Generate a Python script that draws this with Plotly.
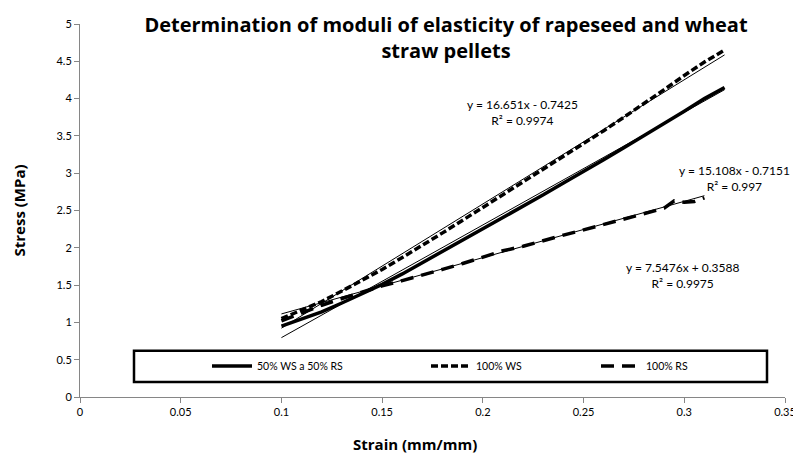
import plotly.graph_objects as go

# ---- data ----
strain = [0.10, 0.11, 0.12, 0.13, 0.14, 0.15, 0.16, 0.17, 0.18, 0.19, 0.20,
          0.21, 0.22, 0.23, 0.24, 0.25, 0.26, 0.27, 0.28, 0.29, 0.30, 0.31, 0.32]
stress_ws_rs = [0.95, 1.04, 1.14, 1.26, 1.38, 1.51, 1.65, 1.80, 1.95, 2.10, 2.25,
                2.40, 2.56, 2.71, 2.87, 3.02, 3.18, 3.34, 3.50, 3.66, 3.83, 4.00, 4.15]
stress_ws = [1.05, 1.16, 1.28, 1.42, 1.56, 1.71, 1.87, 2.03, 2.20, 2.37, 2.54,
             2.71, 2.88, 3.05, 3.22, 3.39, 3.57, 3.75, 3.93, 4.12, 4.31, 4.49, 4.65]
strain_rs = [0.10, 0.11, 0.12, 0.13, 0.14, 0.15, 0.16, 0.17, 0.18, 0.19, 0.20,
             0.21, 0.22, 0.23, 0.24, 0.25, 0.26, 0.27, 0.28, 0.29, 0.295, 0.30,
             0.305, 0.31]
stress_rs = [1.02, 1.13, 1.23, 1.32, 1.41, 1.49, 1.56, 1.63, 1.71, 1.79, 1.87,
             1.96, 2.02, 2.10, 2.17, 2.24, 2.31, 2.38, 2.45, 2.53, 2.63, 2.61,
             2.62, 2.67]

# linear trendlines (slope, intercept) as printed on the chart
trend_ws = (16.651, -0.7425)
trend_mix = (15.108, -0.7151)
trend_rs = (7.5476, 0.3588)

names = ["50% WS a 50% RS", "100% WS", "100% RS"]
eq_texts = ["y = 16.651x - 0.7425<br>R² = 0.9974",
            "y = 15.108x - 0.7151<br>R² = 0.997",
            "y = 7.5476x + 0.3588<br>R² = 0.9975"]
eq_pos = [(0.2195, 3.82), (0.325, 2.93), (0.299, 1.63)]

x_ticks = [0, 0.05, 0.1, 0.15, 0.2, 0.25, 0.3, 0.35]
y_ticks = [0, 0.5, 1, 1.5, 2, 2.5, 3, 3.5, 4, 4.5, 5]

FONT = "Lato"
BFONT = "Open Sans"
L, R, T, B = 72, 24, 9, 75
PW = 801 - L - R
fig = go.Figure()

def trend(xs, coef):
    return [coef[0] * v + coef[1] for v in xs]

# trendlines (thin)
for xs, coef in [(strain, trend_ws), (strain, trend_mix), (strain_rs, trend_rs)]:
    ends = [xs[0], xs[-1]]
    fig.add_trace(go.Scatter(x=ends, y=trend(ends, coef), mode="lines",
                             line=dict(color="black", width=1), showlegend=False,
                             hoverinfo="skip"))

fig.add_trace(go.Scatter(x=strain, y=stress_ws_rs, mode="lines", name=names[0],
                         line=dict(color="black", width=3.5), legend="legend"))
fig.add_trace(go.Scatter(x=strain, y=stress_ws, mode="lines", name=names[1],
                         line=dict(color="black", width=3.5, dash="7px,3px"),
                         legend="legend2"))
fig.add_trace(go.Scatter(x=strain_rs, y=stress_rs, mode="lines", name=names[2],
                         line=dict(color="black", width=3.5, dash="13px,8px"),
                         legend="legend3"))

leg_common = dict(orientation="h", bgcolor="rgba(0,0,0,0)", borderwidth=0,
                  font=dict(family=FONT, size=10.5, color="black"),
                  yanchor="middle", xanchor="left", itemwidth=40)
fig.update_layout(
    legend=dict(x=127 / PW, y=0.083, **leg_common),
    legend2=dict(x=346 / PW, y=0.083, **leg_common),
    legend3=dict(x=516 / PW, y=0.083, **leg_common),
)

# legend box
fig.add_shape(type="rect", xref="paper", yref="paper", x0=54 / PW, x1=(PW - 18) / PW,
              y0=0.040, y1=0.124, line=dict(color="black", width=2.5),
              fillcolor="white", layer="below")

for (ax, ay), txt in zip(eq_pos, eq_texts):
    fig.add_annotation(xref="x", yref="y", x=ax, y=ay, text=txt,
                       showarrow=False, align="center", yanchor="middle",
                       font=dict(family=FONT, size=12, color="black"))

# x-axis title (Excel places it slightly left of the plot centre)
fig.add_annotation(xref="paper", yref="paper", x=0.475, y=-0.125,
                   text="<b>Strain (mm/mm)</b>", showarrow=False,
                   xanchor="center", yanchor="middle",
                   font=dict(family=BFONT, size=15, color="black"))

fig.update_layout(
    width=801, height=464,
    margin=dict(l=L, r=R, t=T, b=B),
    paper_bgcolor="white", plot_bgcolor="white",
    title=dict(text="<b>Determination of moduli of elasticity of rapeseed and wheat<br>straw pellets</b>",
               x=438 / 801, xanchor="center", y=0.948, yanchor="top",
               font=dict(family=BFONT, size=20, color="black")),
    xaxis=dict(range=[0, 0.35], tickvals=x_ticks, ticktext=[str(v) for v in x_ticks],
               showline=True, linecolor="#868686", linewidth=1, ticks="outside",
               tickcolor="#868686", ticklen=5, showgrid=False, zeroline=False,
               ticklabeloverflow="allow",
               tickfont=dict(family=FONT, size=11, color="black")),
    yaxis=dict(range=[0, 5], tickvals=y_ticks, ticktext=[str(v) for v in y_ticks],
               showline=True, linecolor="#868686", linewidth=1, ticks="outside",
               tickcolor="#868686", ticklen=5, showgrid=False, zeroline=False,
               ticklabeloverflow="allow",
               tickfont=dict(family=FONT, size=11, color="black"),
               title=dict(text="<b>Stress (MPa)</b>", standoff=27,
                          font=dict(family=BFONT, size=15, color="black"))),
)

fig.write_html("out.html")
